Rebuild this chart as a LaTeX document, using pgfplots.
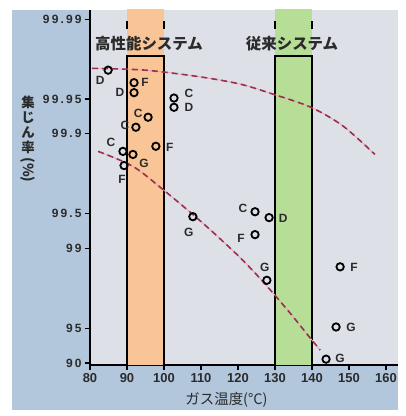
\documentclass[border=0pt]{standalone}
\usepackage{pgfplots}
\pgfplotsset{compat=1.18}
\usepackage{pgfplotstable}
\usepackage{fontspec}
\setmainfont{Liberation Sans}
\newfontfamily\jp{Noto Sans CJK JP}
\newfontfamily\ytf[LetterSpace=18]{Liberation Sans}
\definecolor{bgblue}{HTML}{B2C6DC}
\definecolor{plotgrey}{HTML}{DEE0E8}
\definecolor{bandorange}{HTML}{F9C496}
\definecolor{bandgreen}{HTML}{B6DE96}
\definecolor{curve}{HTML}{9B2F4F}
\definecolor{curvepink}{HTML}{E4A8B8}
\definecolor{txt}{HTML}{2B2B2B}
\pgfplotstableread{
x y lab dx dy
84.9 99.972 D -8 -10
91.9 99.964 F 11 0
91.9 99.956 D -14 0
102.7 99.951 C 15 5
102.7 99.941 D 15 0
95.7 99.928 C -10 4
92.4 99.912 C -11 2
97.8 99.871 F 14 -1
88.9 99.857 C -12 9
91.6 99.848 G 11 -9
89.2 99.81 F -2 -14
107.8 99.47 G -4 -16
124.6 99.52 C -12 3
128.4 99.46 D 14 -1
124.6 99.24 F -14 -4
127.8 98.1 G -2 13
147.6 98.55 F 14 -1
146.5 95.15 G 15 0
143.8 90.75 G 14 1
}\pts
\begin{document}
\begin{tikzpicture}
\path[use as bounding box, fill=white] (0,0) rectangle (406bp,416bp);
\fill[bgblue] (12bp,6bp) rectangle (398bp,406bp);
\begin{axis}[
  at={(90bp,51bp)}, anchor=south west,
  scale only axis, width=308bp, height=355bp,
  xmin=80, xmax=163.24,
  ymin=89.6, ymax=99.9918,
  y coord trafo/.code={\pgfmathparse{-log10(100-#1)}},
  axis background/.style={fill=plotgrey},
  axis x line*=bottom, axis y line*=left,
  axis line style={line width=1.3bp, black, -},
  tick align=outside, major tick length=5bp,
  tick style={line width=1.3bp, black},
  xtick={80,90,...,160}, xticklabels={80,90,100,110,120,130,140,150,160},
  ytick={90,95,99,99.5,99.9,99.95,99.99},
  yticklabels={90,95,99,99.5,99.9,99.95,99.99},
  ticklabel style={text=txt},
  xticklabel style={font=\bfseries\fontsize{13}{13}\selectfont},
  yticklabel style={font=\ytf\bfseries\fontsize{12}{12}\selectfont},
  clip=false,
]
% bands
\addplot[fill=bandorange, draw=none] coordinates {(90,89.6) (100,89.6) (100,99.9918) (90,99.9918)} -- cycle;
\addplot[fill=bandgreen, draw=none] coordinates {(130,89.6) (140,89.6) (140,99.9918) (130,99.9918)} -- cycle;
% band frame lines
\addplot[black, line width=1.3bp] coordinates {(90,89.6) (90,99.9789) (100,99.9789) (100,89.6)};
\addplot[black, line width=1.3bp] coordinates {(130,89.6) (130,99.9789) (140,99.9789) (140,89.6)};
\addplot[black, line width=1.3bp] coordinates {(90,99.98777) (90,99.98959)};
\addplot[black, line width=1.3bp] coordinates {(100,99.98777) (100,99.98959)};
\addplot[black, line width=1.3bp] coordinates {(130,99.98777) (130,99.98959)};
\addplot[black, line width=1.3bp] coordinates {(140,99.98777) (140,99.98959)};
% curves
\addplot[curvepink, line width=0.8bp, smooth] coordinates {(80.5,99.973) (94.9,99.972) (109.7,99.968) (120.5,99.963) (129.2,99.955) (139.7,99.941) (148.4,99.914) (157.0,99.848)};
\addplot[curve, line width=1.6bp, dash pattern=on 6bp off 4bp, smooth] coordinates {(80.5,99.973) (94.9,99.972) (109.7,99.968) (120.5,99.963) (129.2,99.955) (139.7,99.941) (148.4,99.914) (157.0,99.848)};
\addplot[curvepink, line width=0.8bp, smooth] coordinates {(82.2,99.857) (91.6,99.807) (99.7,99.693) (109.7,99.427) (118.65,98.95) (124.05,98.43) (129.2,97.60) (134.05,96.34) (138.65,94.41) (142.2,92.29)};
\addplot[curve, line width=1.6bp, dash pattern=on 6bp off 4bp, smooth] coordinates {(82.2,99.857) (91.6,99.807) (99.7,99.693) (109.7,99.427) (118.65,98.95) (124.05,98.43) (129.2,97.60) (134.05,96.34) (138.65,94.41) (142.2,92.29)};
% points
\addplot[only marks, mark=o, mark size=3.7bp, line width=1.8bp, black,
  point meta=explicit symbolic,
  visualization depends on={\thisrow{dx}\as\dx},
  visualization depends on={\thisrow{dy}\as\dy},
  nodes near coords,
  every node near coord/.style={anchor=center, xshift=\dx bp, yshift=\dy bp,
    font=\bfseries\fontsize{12}{12}\selectfont, text=txt, inner sep=0pt}]
  table[x=x, y=y, meta=lab]{\pts};
% band labels
\node[font=\jp\bfseries\fontsize{15.5}{15.5}\selectfont, text=txt] at (axis cs:95.95,99.9841) {高性能システム};
\node[font=\jp\bfseries\fontsize{15.5}{15.5}\selectfont, text=txt] at (axis cs:134.6,99.9841) {従来システム};
\end{axis}
\node[font=\jp\fontsize{14.5}{14.5}\selectfont, text=txt] at (226.5bp,16bp) {ガス温度(°C)};
\node[font=\jp\bfseries\fontsize{13.5}{15.3}\selectfont, text=txt, align=center, inner sep=0pt] at (28bp,291bp) {集\\じ\\ん\\率};
\node[font=\jp\bfseries\fontsize{14}{14}\selectfont, text=txt, rotate=-90, inner sep=0pt] at (28bp,246bp) {(\%)};
\end{tikzpicture}
\end{document}
